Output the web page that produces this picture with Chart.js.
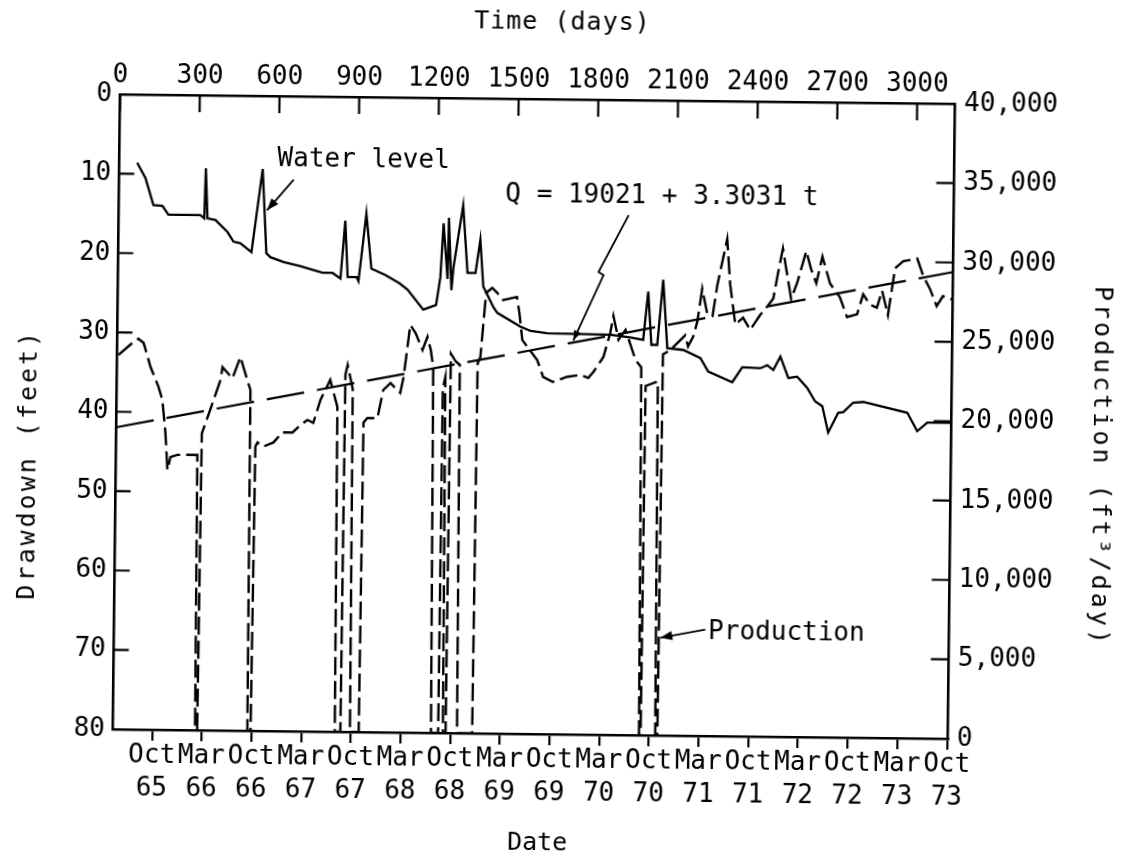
<!DOCTYPE html>
<html>
<head>
<meta charset="utf-8">
<title>Drawdown and production</title>
<script src="https://cdn.jsdelivr.net/npm/chart.js@4.4.1/dist/chart.umd.min.js"></script>
<style>
html, body { margin: 0; padding: 0; background: #fff; overflow: hidden; }
/* the typed sheet sits slightly askew */
#sheet { position: absolute; left: 0; top: 0; width: 1121px; height: 858px;
  transform: rotate(0.65deg); transform-origin: 534px 416px; }
canvas { display: block; }
</style>
</head>
<body>
<div id="sheet"><canvas id="chart" width="1121" height="858"></canvas></div>
<script>
const FONT = "'DejaVu Sans Mono', 'Liberation Mono', monospace";

// axes
const timeTicks = [0, 300, 600, 900, 1200, 1500, 1800, 2100, 2400, 2700, 3000];
const dateMonths = ['Oct', 'Mar', 'Oct', 'Mar', 'Oct', 'Mar', 'Oct', 'Mar', 'Oct',
  'Mar', 'Oct', 'Mar', 'Oct', 'Mar', 'Oct', 'Mar', 'Oct'];
const dateYears = ['65', '66', '66', '67', '67', '68', '68', '69', '69',
  '70', '70', '71', '71', '72', '72', '73', '73'];
const drawdownTicks = [0, 10, 20, 30, 40, 50, 60, 70, 80];
const flowTicks = [0, 5000, 10000, 15000, 20000, 25000, 30000, 35000, 40000];

// water level (drawdown, ft) against time in days
const waterDays = [67, 99, 130, 164, 187, 307, 322, 326, 334, 364, 410, 433, 459, 501,
  540, 557, 572, 622, 686, 769, 807, 837, 853, 864, 898, 905, 932, 953, 1006, 1059,
  1090, 1150, 1198, 1213, 1223, 1240, 1243, 1255, 1262, 1296, 1315, 1345, 1362, 1375,
  1414, 1429, 1516, 1554, 1618, 1855, 1930, 1979, 1996, 2010, 2032, 2052, 2070, 2130,
  2195, 2225, 2316, 2353, 2421, 2447, 2470, 2496, 2527, 2560, 2598, 2629, 2656, 2679,
  2716, 2735, 2772, 2810, 2976, 3014, 3052, 3138];
const waterDrawdown = [8.6, 10.5, 13.9, 14.0, 15.1, 15.1, 15.5, 9.2, 15.5, 15.7, 17.2, 18.4, 18.6, 19.7,
  9.2, 19.8, 20.3, 20.9, 21.4, 22.2, 22.2, 22.9, 15.6, 22.7, 22.7, 23.2, 14.7, 21.6, 22.4, 23.4,
  24.2, 26.7, 26.1, 22.6, 15.8, 22.8, 15.1, 24.2, 21.3, 13.5, 22.0, 22.0, 17.8, 23.7,
  26.3, 27.0, 28.7, 29.2, 29.5, 29.6, 29.9, 30.2, 24.1, 30.8, 30.8, 22.6, 31.2, 31.4,
  32.4, 34.1, 35.4, 33.5, 33.6, 33.2, 33.8, 32.1, 34.8, 34.6, 36.0, 37.7, 38.3, 41.6,
  39.1, 39.0, 37.8, 37.7, 39.0, 41.3, 40.2, 40.2];

// production (ft3/day) against time in days
const prodDays = [5, 61, 79, 99, 126, 157, 172, 185, 194, 205, 231, 306, 309, 317, 322,
  365, 390, 397, 435, 464, 491, 503, 506, 518, 524, 532, 555, 592, 625, 663, 693, 719,
  741, 767, 803, 831, 835, 856, 860, 868, 888, 892, 925, 930, 944, 982, 1003, 1030,
  1067, 1079, 1102, 1122, 1149, 1167, 1180, 1190, 1197, 1224, 1227, 1236, 1242, 1252,
  1256, 1275, 1290, 1295, 1352, 1357, 1367, 1386, 1409, 1428, 1450, 1502, 1512, 1524,
  1581, 1604, 1641, 1694, 1744, 1774, 1793, 1830, 1855, 1866, 1886, 1912, 1951, 1973,
  1980, 1986, 1990, 2036, 2041, 2049, 2054, 2081, 2137, 2148, 2167, 2182, 2199, 2219,
  2239, 2256, 2291, 2304, 2325, 2354, 2381, 2418, 2448, 2467, 2484, 2501, 2534, 2556,
  2589, 2608, 2628, 2650, 2680, 2717, 2745, 2783, 2805, 2831, 2857, 2876, 2899, 2924,
  2954, 3007, 3030, 3056, 3082, 3105, 3139];
const prodFlow = [23580, 24410, 24610, 24360, 22850, 21600, 20780, 18700, 16370, 17190, 17330, 17340, 0, 0, 18700,
  20810, 22080, 22880, 22190, 23540, 22090, 21470, 0, 0, 17900, 18170, 17920, 18180, 18820, 18820, 19300, 19620,
  19440, 20890, 22160, 20460, 0, 0, 22500, 23110, 21600, 0, 0, 19500, 19780, 19780, 21560, 22000,
  21390, 22400, 25680, 25180, 24110, 24940, 24120, 23050, 0, 0, 21700, 22400, 0, 0,
  23900, 23400, 23200, 0, 0, 23300, 23710, 27750, 28070, 27760, 27320, 27520, 26510, 24810,
  23560, 22500, 22190, 22520, 22650, 22470, 22850, 23800, 25340, 26390, 24890, 25520, 23630, 23170,
  0, 0, 22000, 22300, 0, 0, 24000, 24280, 25220, 24520, 25140, 26090, 28170, 26590,
  26460, 28430, 31310, 28460, 25940, 26370, 25610, 26550, 27170, 27610, 29240, 30760, 27600, 28600,
  30610, 29470, 28590, 30280, 28580, 27750, 26490, 26670, 27930, 27290, 27100, 28170, 26650, 29600,
  30040, 30220, 29140, 28320, 27240, 27870, 27680];

// fitted trend Q = a + b t
const trendIntercept = 19021;
const trendSlope = 3.3031;
const trendDays = [0, 3143];

const pts = (xs, ys) => xs.map((d, i) => ({ x: d, y: ys[i] }));

function arrow(ctx, path, head) {
  ctx.beginPath();
  ctx.moveTo(path[0][0], path[0][1]);
  path.slice(1).forEach(p => ctx.lineTo(p[0], p[1]));
  ctx.stroke();
  const [a, b] = path.slice(-2);
  const ang = Math.atan2(b[1] - a[1], b[0] - a[0]);
  const c = Math.cos(ang), s = Math.sin(ang), w = head * 0.38;
  ctx.beginPath();
  ctx.moveTo(b[0], b[1]);
  ctx.lineTo(b[0] - head * c + w * s, b[1] - head * s - w * c);
  ctx.lineTo(b[0] - head * c - w * s, b[1] - head * s + w * c);
  ctx.closePath();
  ctx.fill();
}

// inward tick marks on the left, right and top frame
const frameTicks = {
  id: 'frameTicks',
  afterDraw(chart) {
    const { ctx, chartArea: a, scales } = chart;
    ctx.save();
    ctx.strokeStyle = '#000';
    ctx.lineWidth = 2.2;
    ctx.beginPath();
    scales.x.ticks.forEach(t => {
      const p = scales.x.getPixelForValue(t.value);
      ctx.moveTo(p, a.top); ctx.lineTo(p, a.top + 17);
    });
    scales.y.ticks.forEach(t => {
      const p = scales.y.getPixelForValue(t.value);
      ctx.moveTo(a.left, p); ctx.lineTo(a.left + 15, p);
    });
    scales.y2.ticks.forEach(t => {
      const p = scales.y2.getPixelForValue(t.value);
      ctx.moveTo(a.right - 18, p); ctx.lineTo(a.right, p);
    });
    ctx.stroke();
    ctx.restore();
  }
};

// typed axis titles
const axisTitles = {
  id: 'axisTitles',
  afterDraw(chart) {
    const ctx = chart.ctx;
    const put = (text, x, y, rot, spacing) => {
      ctx.save();
      ctx.translate(x, y);
      ctx.rotate(rot);
      ctx.letterSpacing = spacing + 'px';
      ctx.fillText(text, 0, 0);
      ctx.restore();
    };
    ctx.save();
    ctx.fillStyle = '#000';
    ctx.font = `25px ${FONT}`;
    ctx.textAlign = 'center';
    ctx.textBaseline = 'middle';
    put('Time (days)', 558, 22, 0, 1);
    put('Date', 542, 843, 0, 0);
    put('Drawdown (feet)', 29, 470, -Math.PI / 2, 3);
    put('Production (ft\u00B3/day)', 1100, 460, Math.PI / 2, 3);
    ctx.restore();
  }
};

// callouts written on the plot
const callouts = {
  id: 'callouts',
  afterDatasetsDraw(chart) {
    const { ctx, scales: { x, y, y2 } } = chart;
    const at = (d, v) => [x.getPixelForValue(d), y.getPixelForValue(v)];
    ctx.save();
    ctx.fillStyle = '#000';
    ctx.strokeStyle = '#000';
    ctx.lineWidth = 1.8;
    ctx.font = `26px ${FONT}`;
    ctx.textAlign = 'left';
    ctx.textBaseline = 'middle';

    let p = at(595, 8.0);
    ctx.fillText('Water level', p[0], p[1]);
    arrow(ctx, [at(657, 10.5), at(558, 14.4)], 12);

    p = at(1454, 12.1);
    ctx.fillText(`Q = ${trendIntercept} + ${trendSlope} t`, p[0], p[1]);
    const qEnd = [x.getPixelForValue(1716), y2.getPixelForValue(trendIntercept + trendSlope * 1716) - 2];
    arrow(ctx, [at(1919, 14.5), at(1808, 21.7), at(1827, 22.1), qEnd], 10);

    p = at(2236, 66.9);
    ctx.fillText('Production', p[0], p[1]);
    arrow(ctx, [at(2225, 66.6), at(2056, 67.7)], 12);
    ctx.restore();
  }
};

const tickFont = { family: FONT, size: 26 };
const frame = { display: true, color: '#000', width: 2.6 };
const noGrid = { display: true, drawOnChartArea: false, drawTicks: false };

new Chart(document.getElementById('chart'), {
  type: 'line',
  data: {
    datasets: [
      {
        label: 'Water level',
        data: pts(waterDays, waterDrawdown),
        xAxisID: 'x', yAxisID: 'y',
        borderColor: '#000', borderWidth: 2.3, pointRadius: 0, tension: 0
      },
      {
        label: 'Production',
        data: pts(prodDays, prodFlow),
        xAxisID: 'x', yAxisID: 'y2',
        borderColor: '#000', borderWidth: 2.4, borderDash: [18, 6], pointRadius: 0, tension: 0
      },
      {
        label: 'Trend',
        data: pts(trendDays, trendDays.map(t => trendIntercept + trendSlope * t)),
        xAxisID: 'x', yAxisID: 'y2',
        borderColor: '#000', borderWidth: 2.2, borderDash: [38, 13], pointRadius: 0
      }
    ]
  },
  options: {
    responsive: false,
    maintainAspectRatio: false,
    devicePixelRatio: 1,
    animation: false,
    events: [],
    layout: { padding: 0 },
    plugins: { legend: { display: false }, tooltip: { enabled: false } },
    scales: {
      x: {
        type: 'linear', position: 'top', min: 0, max: 3143,
        afterBuildTicks: s => { s.ticks = timeTicks.map(v => ({ value: v })); },
        afterFit: s => { s.height = 99; },
        ticks: { font: tickFont, color: '#000', padding: 3, maxRotation: 0, autoSkip: false,
          callback: v => String(v) },
        grid: noGrid, border: frame
      },
      date: {
        type: 'linear', position: 'bottom', min: -0.787, max: 16.02,
        afterBuildTicks: s => { s.ticks = dateMonths.map((m, i) => ({ value: i })); },
        afterFit: s => { s.height = 124; },
        ticks: {
          font: { family: FONT, size: 26, lineHeight: 1.3 }, color: '#000', padding: -2,
          maxRotation: 0, autoSkip: false,
          callback: (v, i) => [dateMonths[i], dateYears[i]]
        },
        grid: { display: true, drawOnChartArea: false, drawTicks: true, tickLength: 11, color: '#000', lineWidth: 2.2 },
        border: frame
      },
      y: {
        type: 'linear', position: 'left', reverse: true, min: 0, max: 80,
        afterBuildTicks: s => { s.ticks = drawdownTicks.map(v => ({ value: v })); },
        afterFit: s => { s.width = 116.5; },
        ticks: { font: tickFont, color: '#000', padding: 8 },
        grid: noGrid, border: frame
      },
      y2: {
        type: 'linear', position: 'right', min: 0, max: 40000,
        afterBuildTicks: s => { s.ticks = flowTicks.map(v => ({ value: v })); },
        afterFit: s => { s.width = 169.4; },
        ticks: { font: tickFont, color: '#000', padding: 9, callback: v => v.toLocaleString('en-US') },
        grid: noGrid, border: frame
      }
    }
  },
  plugins: [frameTicks, axisTitles, callouts]
});
</script>
</body>
</html>
